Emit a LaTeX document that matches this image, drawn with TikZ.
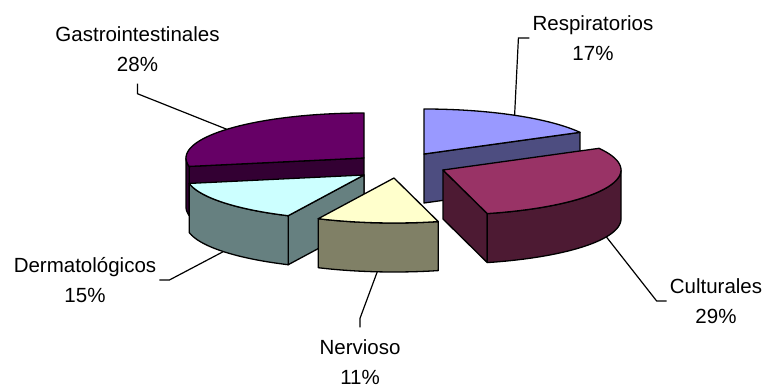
\documentclass[tikz,border=0pt]{standalone}
\usepackage{fontspec}
\setmainfont{Liberation Sans}

\definecolor{resptop}{HTML}{9999FF}
\definecolor{respside}{HTML}{4D4D80}
\definecolor{culttop}{HTML}{993366}
\definecolor{cultside}{HTML}{4D1A33}
\definecolor{nervtop}{HTML}{FFFFCC}
\definecolor{nervside}{HTML}{808066}
\definecolor{dermtop}{HTML}{CCFFFF}
\definecolor{dermside}{HTML}{668080}
\definecolor{gastrotop}{HTML}{660066}
\definecolor{gastroside}{HTML}{330033}

\begin{document}
\begin{tikzpicture}[x=1pt,y=-1pt,
  face/.style={draw=black,line width=1.3pt,line join=round},
  lbl/.style={align=center,inner xsep=3pt,inner ysep=12pt,font=\fontsize{20.5}{30}\selectfont},
  leader/.style={draw=black,line width=1.2pt}]
  \useasboundingbox (0,0) rectangle (765,390);
  \def\rx{178}
  \def\ry{45}
  \def\depth{49}

  % Respiratorios (0 to 61.2)
  \filldraw[face,fill=respside] (424,154) -- ({424+\rx*sin(61.2)},{154-\ry*cos(61.2)})
    -- ++(0,\depth) -- (424,{154+\depth}) -- cycle;
  \filldraw[face,fill=resptop] (424,154)
    -- plot[domain=0:61.2,samples=30] ({424+\rx*sin(\x)},{154-\ry*cos(\x)}) -- cycle;

  % Gastrointestinales (259.2 to 360)
  \filldraw[face,fill=gastroside] (364,158) -- ({364+\rx*sin(259.2)},{158-\ry*cos(259.2)})
    -- ++(0,\depth) -- (364,{158+\depth}) -- cycle;
  \filldraw[face,fill=gastroside]
    plot[domain=259.2:270,samples=8] ({364+\rx*sin(\x)},{158-\ry*cos(\x)})
    -- plot[domain=270:259.2,samples=8] ({364+\rx*sin(\x)},{158+\depth-\ry*cos(\x)}) -- cycle;
  \filldraw[face,fill=gastrotop] (364,158)
    -- plot[domain=259.2:360,samples=40] ({364+\rx*sin(\x)},{158-\ry*cos(\x)}) -- cycle;

  % Culturales (61.2 to 165.6)
  \filldraw[face,fill=cultside] (443,170) -- ({443+\rx*sin(165.6)},{170-\ry*cos(165.6)})
    -- ++(0,\depth) -- (443,{170+\depth}) -- cycle;
  \filldraw[face,fill=cultside]
    plot[domain=90:165.6,samples=30] ({443+\rx*sin(\x)},{170-\ry*cos(\x)})
    -- plot[domain=165.6:90,samples=30] ({443+\rx*sin(\x)},{170+\depth-\ry*cos(\x)}) -- cycle;
  \filldraw[face,fill=culttop] (443,170)
    -- plot[domain=61.2:165.6,samples=40] ({443+\rx*sin(\x)},{170-\ry*cos(\x)}) -- cycle;

  % Dermatologicos (205.2 to 259.2)
  \filldraw[face,fill=dermside] (364,175) -- ({364+\rx*sin(205.2)},{175-\ry*cos(205.2)})
    -- ++(0,\depth) -- (364,{175+\depth}) -- cycle;
  \filldraw[face,fill=dermside]
    plot[domain=205.2:259.2,samples=30] ({364+\rx*sin(\x)},{175-\ry*cos(\x)})
    -- plot[domain=259.2:205.2,samples=30] ({364+\rx*sin(\x)},{175+\depth-\ry*cos(\x)}) -- cycle;
  \filldraw[face,fill=dermtop] (364,175)
    -- plot[domain=205.2:259.2,samples=30] ({364+\rx*sin(\x)},{175-\ry*cos(\x)}) -- cycle;

  % Nervioso (165.6 to 205.2)
  \filldraw[face,fill=nervside]
    plot[domain=165.6:205.2,samples=30] ({394+\rx*sin(\x)},{178-\ry*cos(\x)})
    -- plot[domain=205.2:165.6,samples=30] ({394+\rx*sin(\x)},{178+\depth-\ry*cos(\x)}) -- cycle;
  \filldraw[face,fill=nervtop] (394,178)
    -- plot[domain=165.6:205.2,samples=30] ({394+\rx*sin(\x)},{178-\ry*cos(\x)}) -- cycle;

  % Labels
  \node[lbl] (glbl) at (137.5,49) {Gastrointestinales\\28\%};
  \node[lbl] (rlbl) at (593,38) {Respiratorios\\17\%};
  \node[lbl] (clbl) at (716,301) {Culturales\\29\%};
  \node[lbl] (nlbl) at (360,362) {Nervioso\\11\%};
  \node[lbl] (dlbl) at (85,280) {Dermatológicos\\15\%};

  % Leader ends on the slices
  \coordinate (gpt) at ({364+\rx*sin(309.6)},{158-\ry*cos(309.6)});
  \coordinate (rpt) at ({424+\rx*sin(30.6)},{154-\ry*cos(30.6)});
  \coordinate (cpt) at ({443+\rx*sin(113.4)},{170+\depth-\ry*cos(113.4)});
  \coordinate (npt) at ({394+\rx*sin(185.4)},{178+\depth-\ry*cos(185.4)});
  \coordinate (dpt) at ({364+\rx*sin(232.2)},{175+\depth-\ry*cos(232.2)});

  % Leader lines
  \draw[leader] (glbl.south) -- ++(0,10) -- (gpt);
  \draw[leader] (rlbl.west) -- ++(-11,0) -- (rpt);
  \draw[leader] (clbl.west) -- ++(-10,0) -- (cpt);
  \draw[leader] (nlbl.north) -- ++(0,-9) -- (npt);
  \draw[leader] (dlbl.east) -- ++(10,0) -- (dpt);
\end{tikzpicture}
\end{document}
